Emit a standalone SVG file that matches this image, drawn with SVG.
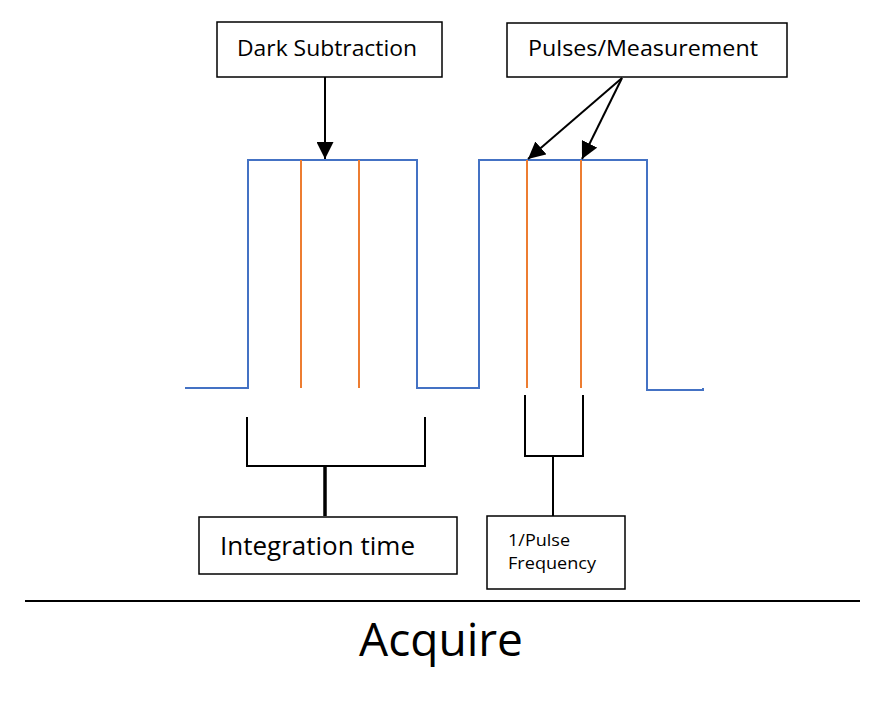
<svg xmlns="http://www.w3.org/2000/svg" width="888" height="710" viewBox="0 0 888 710">
<style>
.box{fill:#fff;stroke:#000;stroke-width:1.5}
.t{font-family:"Open Sans","Liberation Sans",sans-serif;fill:#000}
.blue{fill:none;stroke:#4472C4;stroke-width:2}
.orange{stroke:#ED7D31;stroke-width:2}
.k{fill:none;stroke:#000;stroke-width:2}
</style>
<defs>
<marker id="ah2" viewBox="0 0 10 10" refX="10" refY="5" markerWidth="17" markerHeight="17" markerUnits="userSpaceOnUse" orient="auto">
<path d="M0,0 L10,5 L0,10 z" fill="#000"/>
</marker>
</defs>
<rect width="888" height="710" fill="#fff"/>
<g id="waveform">
<polyline class="blue" points="185,388 248,388 248,160 417,160 417,388 479,388 479,160 647,160 647,390 703,390 703,388"/>
<line class="orange" x1="301" y1="160" x2="301" y2="388"/>
<line class="orange" x1="359" y1="160" x2="359" y2="388"/>
<line class="orange" x1="527" y1="160" x2="527" y2="388"/>
<line class="orange" x1="581" y1="160" x2="581" y2="388"/>
</g>
<g id="connectors">
<line class="k" x1="325" y1="77" x2="325" y2="159" marker-end="url(#ah2)"/>
<line class="k" x1="622" y1="78" x2="528" y2="159" marker-end="url(#ah2)"/>
<line class="k" x1="622" y1="78" x2="582" y2="159" marker-end="url(#ah2)"/>
<polyline class="k" points="247,417 247,466 425,466 425,417"/>
<line x1="325" y1="466" x2="325" y2="516" stroke="#000" stroke-width="3.5"/>
<polyline class="k" points="525,395 525,456 583,456 583,395"/>
<line class="k" x1="553" y1="456" x2="553" y2="516"/>
</g>
<g id="dark-subtraction">
<rect class="box" x="217" y="22" width="225" height="55"/>
<text class="t" x="237" y="56" font-size="21" textLength="180" lengthAdjust="spacingAndGlyphs">Dark Subtraction</text>
</g>
<g id="pulses-measurement">
<rect class="box" x="507" y="23" width="280" height="54"/>
<text class="t" x="528" y="56" font-size="21" textLength="230" lengthAdjust="spacingAndGlyphs">Pulses/Measurement</text>
</g>
<g id="integration-time">
<rect class="box" x="199" y="517" width="258" height="57"/>
<text class="t" x="220" y="555" font-size="25" textLength="195" lengthAdjust="spacingAndGlyphs">Integration time</text>
</g>
<g id="pulse-frequency">
<rect class="box" x="487" y="516" width="138" height="73"/>
<text class="t" x="508" y="546" font-size="17" textLength="62" lengthAdjust="spacingAndGlyphs">1/Pulse</text>
<text class="t" x="508" y="569" font-size="17" textLength="88" lengthAdjust="spacingAndGlyphs">Frequency</text>
</g>
<line x1="25" y1="601" x2="860" y2="601" stroke="#000" stroke-width="2"/>
<text class="t" x="359" y="656" font-size="46" textLength="164" lengthAdjust="spacingAndGlyphs">Acquire</text>
</svg>
